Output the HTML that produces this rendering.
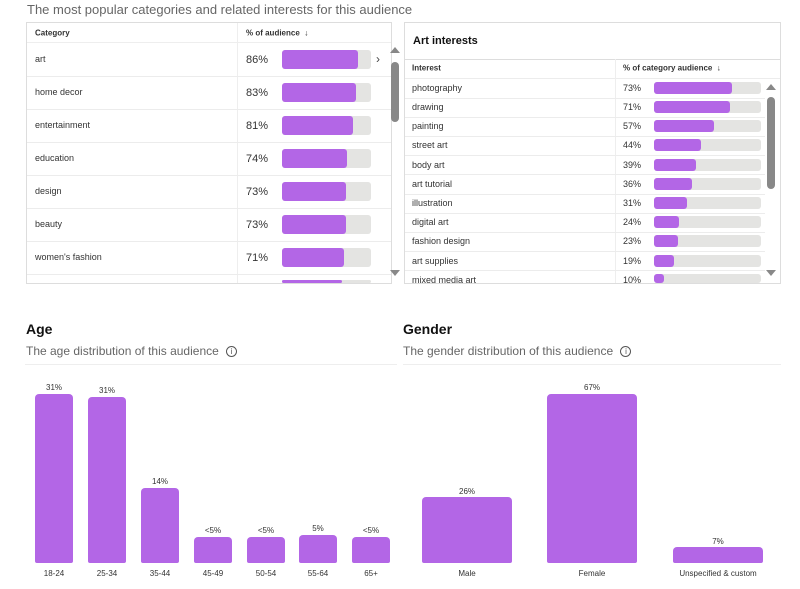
<!DOCTYPE html><html><head><style>
*{margin:0;padding:0;box-sizing:border-box}
body{width:800px;height:589px;background:#fff;font-family:"Liberation Sans",sans-serif;color:#222;position:relative;overflow:hidden}
.a{position:absolute;white-space:nowrap}
.t{font-size:9px;color:#333;transform:translateY(-50%)}
.trk{position:absolute;background:#e4e4e2;border-radius:3px}
.fill{position:absolute;left:0;top:0;bottom:0;background:#b366e6;border-radius:3px}
.hl{position:absolute;height:1px;background:#ececec}
.bar{position:absolute;background:#b366e6;border-radius:4px 4px 2px 2px}
.v{position:absolute;font-size:8px;color:#333;text-align:center;transform:translateX(-50%)}
.lb{position:absolute;font-size:8px;color:#333;text-align:center;transform:translateX(-50%);top:569px}
</style></head><body>
<div class="a" style="left:27px;top:2px;font-size:13px;color:#666">The most popular categories and related interests for this audience</div>
<!-- left table -->
<div class="a" style="left:26px;top:22px;width:366px;height:262px;border:1px solid #ddd"></div>
<div class="a" style="left:27px;top:23px;width:364px;height:20px;background:#fff;border-bottom:1px solid #eee"></div>
<div class="a" style="left:237px;top:23px;width:1px;height:260px;background:#eee"></div>
<div class="a t" style="left:35px;top:33px;font-weight:bold;font-size:8px">Category</div>
<div class="a t" style="left:246px;top:33px;font-weight:bold;font-size:8px">% of audience &nbsp;↓</div>
<div class="hl" style="left:27px;top:76px;width:364px"></div>
<div class="hl" style="left:27px;top:109px;width:364px"></div>
<div class="hl" style="left:27px;top:142px;width:364px"></div>
<div class="hl" style="left:27px;top:175px;width:364px"></div>
<div class="hl" style="left:27px;top:208px;width:364px"></div>
<div class="hl" style="left:27px;top:241px;width:364px"></div>
<div class="hl" style="left:27px;top:274px;width:364px"></div>
<div class="a t" style="left:35px;top:59px">art</div><div class="a t" style="left:246px;top:60px;font-size:11px">86%</div><div class="trk" style="left:282px;top:50px;width:89px;height:19px"><div class="fill" style="width:76px"></div></div>
<div class="a" style="left:376px;top:52px;font-size:12px;color:#444">›</div>
<div class="a t" style="left:35px;top:92px">home decor</div><div class="a t" style="left:246px;top:93px;font-size:11px">83%</div><div class="trk" style="left:282px;top:83px;width:89px;height:19px"><div class="fill" style="width:74px"></div></div>
<div class="a t" style="left:35px;top:125px">entertainment</div><div class="a t" style="left:246px;top:126px;font-size:11px">81%</div><div class="trk" style="left:282px;top:116px;width:89px;height:19px"><div class="fill" style="width:71px"></div></div>
<div class="a t" style="left:35px;top:158px">education</div><div class="a t" style="left:246px;top:159px;font-size:11px">74%</div><div class="trk" style="left:282px;top:149px;width:89px;height:19px"><div class="fill" style="width:65px"></div></div>
<div class="a t" style="left:35px;top:191px">design</div><div class="a t" style="left:246px;top:192px;font-size:11px">73%</div><div class="trk" style="left:282px;top:182px;width:89px;height:19px"><div class="fill" style="width:64px"></div></div>
<div class="a t" style="left:35px;top:224px">beauty</div><div class="a t" style="left:246px;top:225px;font-size:11px">73%</div><div class="trk" style="left:282px;top:215px;width:89px;height:19px"><div class="fill" style="width:64px"></div></div>
<div class="a t" style="left:35px;top:257px">women's fashion</div><div class="a t" style="left:246px;top:258px;font-size:11px">71%</div><div class="trk" style="left:282px;top:248px;width:89px;height:19px"><div class="fill" style="width:62px"></div></div>
<div class="trk" style="left:282px;top:280px;width:89px;height:3px"><div class="fill" style="width:60px"></div></div>
<div class="a" style="left:390px;top:47px;width:0;height:0;border-left:5px solid transparent;border-right:5px solid transparent;border-bottom:6px solid #888"></div>
<div class="a" style="left:391px;top:62px;width:8px;height:60px;background:#888;border-radius:4px"></div>
<div class="a" style="left:390px;top:270px;width:0;height:0;border-left:5px solid transparent;border-right:5px solid transparent;border-top:6px solid #888"></div>
<!-- right panel -->
<div class="a" style="left:404px;top:22px;width:377px;height:262px;border:1px solid #ddd"></div>
<div class="a t" style="left:413px;top:41px;font-size:11px;font-weight:bold;color:#111">Art interests</div>
<div class="hl" style="left:405px;top:59px;width:375px;background:#ddd"></div>
<div class="hl" style="left:405px;top:78px;width:375px"></div>
<div class="a" style="left:615px;top:59px;width:1px;height:224px;background:#eee"></div>
<div class="a t" style="left:412px;top:68px;font-size:8px;font-weight:bold">Interest</div>
<div class="a t" style="left:623px;top:68px;font-size:8px;font-weight:bold">% of category audience &nbsp;↓</div>
<div class="a t" style="left:412px;top:88px">photography</div><div class="a t" style="left:623px;top:88px">73%</div><div class="trk" style="left:654px;top:82px;width:107px;height:12px"><div class="fill" style="width:78px"></div></div>
<div class="a t" style="left:412px;top:107px">drawing</div><div class="a t" style="left:623px;top:107px">71%</div><div class="trk" style="left:654px;top:101px;width:107px;height:12px"><div class="fill" style="width:76px"></div></div>
<div class="a t" style="left:412px;top:126px">painting</div><div class="a t" style="left:623px;top:126px">57%</div><div class="trk" style="left:654px;top:120px;width:107px;height:12px"><div class="fill" style="width:60px"></div></div>
<div class="a t" style="left:412px;top:145px">street art</div><div class="a t" style="left:623px;top:145px">44%</div><div class="trk" style="left:654px;top:139px;width:107px;height:12px"><div class="fill" style="width:47px"></div></div>
<div class="a t" style="left:412px;top:165px">body art</div><div class="a t" style="left:623px;top:165px">39%</div><div class="trk" style="left:654px;top:159px;width:107px;height:12px"><div class="fill" style="width:42px"></div></div>
<div class="a t" style="left:412px;top:184px">art tutorial</div><div class="a t" style="left:623px;top:184px">36%</div><div class="trk" style="left:654px;top:178px;width:107px;height:12px"><div class="fill" style="width:38px"></div></div>
<div class="a t" style="left:412px;top:203px">illustration</div><div class="a t" style="left:623px;top:203px">31%</div><div class="trk" style="left:654px;top:197px;width:107px;height:12px"><div class="fill" style="width:33px"></div></div>
<div class="a t" style="left:412px;top:222px">digital art</div><div class="a t" style="left:623px;top:222px">24%</div><div class="trk" style="left:654px;top:216px;width:107px;height:12px"><div class="fill" style="width:25px"></div></div>
<div class="a t" style="left:412px;top:241px">fashion design</div><div class="a t" style="left:623px;top:241px">23%</div><div class="trk" style="left:654px;top:235px;width:107px;height:12px"><div class="fill" style="width:24px"></div></div>
<div class="a t" style="left:412px;top:261px">art supplies</div><div class="a t" style="left:623px;top:261px">19%</div><div class="trk" style="left:654px;top:255px;width:107px;height:12px"><div class="fill" style="width:20px"></div></div>
<div class="a t" style="left:412px;top:280px">mixed media art</div><div class="a t" style="left:623px;top:280px">10%</div><div class="trk" style="left:654px;top:274px;width:107px;height:9px"><div class="fill" style="width:10px"></div></div>
<div class="hl" style="left:405px;top:98px;width:360px"></div><div class="hl" style="left:405px;top:117px;width:360px"></div><div class="hl" style="left:405px;top:136px;width:360px"></div><div class="hl" style="left:405px;top:155px;width:360px"></div><div class="hl" style="left:405px;top:174px;width:360px"></div><div class="hl" style="left:405px;top:194px;width:360px"></div><div class="hl" style="left:405px;top:213px;width:360px"></div><div class="hl" style="left:405px;top:232px;width:360px"></div><div class="hl" style="left:405px;top:251px;width:360px"></div><div class="hl" style="left:405px;top:270px;width:360px"></div>
<div class="a" style="left:766px;top:84px;width:0;height:0;border-left:5px solid transparent;border-right:5px solid transparent;border-bottom:6px solid #888"></div>
<div class="a" style="left:767px;top:97px;width:8px;height:92px;background:#888;border-radius:4px"></div>
<div class="a" style="left:766px;top:270px;width:0;height:0;border-left:5px solid transparent;border-right:5px solid transparent;border-top:6px solid #888"></div>
<!-- Age -->
<div class="a" style="left:26px;top:321px;font-size:14px;font-weight:bold;color:#111">Age</div>
<div class="a" style="left:26px;top:344px;font-size:12px;color:#666">The age distribution of this audience <span style="display:inline-block;width:11px;height:11px;border:1px solid #555;border-radius:50%;font-size:8px;text-align:center;line-height:9px;margin-left:4px;vertical-align:1px;color:#555">i</span></div>
<div class="hl" style="left:25px;top:364px;width:372px;background:#eee"></div>
<div class="bar" style="left:35px;top:394px;width:38px;height:169px"></div><div class="v" style="left:54px;top:383px">31%</div><div class="lb" style="left:54px">18-24</div>
<div class="bar" style="left:88px;top:397px;width:38px;height:166px"></div><div class="v" style="left:107px;top:386px">31%</div><div class="lb" style="left:107px">25-34</div>
<div class="bar" style="left:141px;top:488px;width:38px;height:75px"></div><div class="v" style="left:160px;top:477px">14%</div><div class="lb" style="left:160px">35-44</div>
<div class="bar" style="left:194px;top:537px;width:38px;height:26px"></div><div class="v" style="left:213px;top:526px">&lt;5%</div><div class="lb" style="left:213px">45-49</div>
<div class="bar" style="left:247px;top:537px;width:38px;height:26px"></div><div class="v" style="left:266px;top:526px">&lt;5%</div><div class="lb" style="left:266px">50-54</div>
<div class="bar" style="left:299px;top:535px;width:38px;height:28px"></div><div class="v" style="left:318px;top:524px">5%</div><div class="lb" style="left:318px">55-64</div>
<div class="bar" style="left:352px;top:537px;width:38px;height:26px"></div><div class="v" style="left:371px;top:526px">&lt;5%</div><div class="lb" style="left:371px">65+</div>
<!-- Gender -->
<div class="a" style="left:403px;top:321px;font-size:14px;font-weight:bold;color:#111">Gender</div>
<div class="a" style="left:403px;top:344px;font-size:12px;color:#666">The gender distribution of this audience <span style="display:inline-block;width:11px;height:11px;border:1px solid #555;border-radius:50%;font-size:8px;text-align:center;line-height:9px;margin-left:4px;vertical-align:1px;color:#555">i</span></div>
<div class="hl" style="left:403px;top:364px;width:378px;background:#eee"></div>
<div class="bar" style="left:422px;top:497px;width:90px;height:66px"></div><div class="v" style="left:467px;top:487px">26%</div><div class="lb" style="left:467px">Male</div>
<div class="bar" style="left:547px;top:394px;width:90px;height:169px"></div><div class="v" style="left:592px;top:383px">67%</div><div class="lb" style="left:592px">Female</div>
<div class="bar" style="left:673px;top:547px;width:90px;height:16px"></div><div class="v" style="left:718px;top:537px">7%</div><div class="lb" style="left:718px">Unspecified &amp; custom</div>
</body></html>
